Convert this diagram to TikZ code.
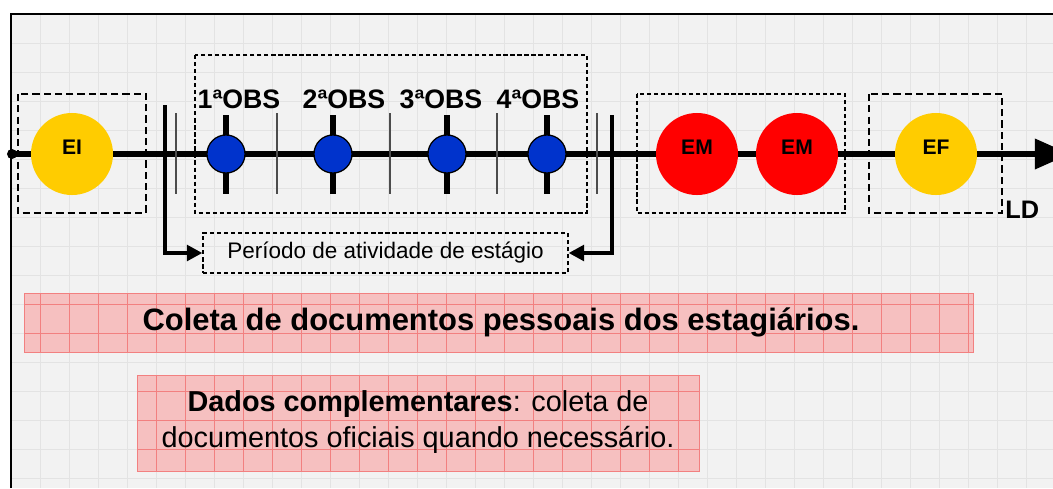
\documentclass[tikz,border=0pt]{standalone}
\usepackage{fontspec}
\setmainfont{Liberation Sans}
\usetikzlibrary{arrows.meta,positioning}

\definecolor{bggray}{RGB}{242,242,242}
\definecolor{gridgray}{RGB}{227,227,227}
\definecolor{obsblue}{RGB}{0,51,204}
\definecolor{stageyellow}{RGB}{255,204,0}
\definecolor{stagered}{RGB}{255,0,0}
\definecolor{notepink}{RGB}{246,192,192}
\definecolor{notegrid}{RGB}{242,128,128}

\tikzset{
  timeline/.style={line width=3.8pt},
  stage/.style={circle, minimum size=2.05cm, inner sep=0pt, text depth=0.35cm,
    font=\bfseries\fontsize{15}{15}\selectfont},
  obs/.style={circle, draw=black, line width=0.9pt, fill=obsblue, minimum size=0.95cm, inner sep=0pt},
  obstick/.style={line width=4.2pt},
  septick/.style={line width=1.3pt, black!70},
  periodbar/.style={line width=2.9pt},
  groupbox/.style={draw, line width=0.8pt, dash pattern=on 3pt off 2pt},
  stagebox/.style={draw, line width=1.4pt, dash pattern=on 5pt off 3pt},
  obslabel/.style={font=\bfseries\fontsize{19}{19}\selectfont, inner sep=0pt},
  notebox/.style={fill=notepink, draw=notegrid, line width=0.6pt}
}

\begin{document}
\begin{tikzpicture}[x=0.025cm, y=-0.025cm]
  \useasboundingbox (0,0) rectangle (1053,488);
  % Background and grid
  \fill[white] (0,0) rectangle (1053,488);
  \fill[bggray] (11,14) rectangle (1053,488);
  \foreach \k in {1,...,36} \draw[gridgray, line width=0.5pt] ({11+29*\k},14) -- ({11+29*\k},488);
  \foreach \k in {1,...,16} \draw[gridgray, line width=0.5pt] (11,{14+29*\k}) -- (1053,{14+29*\k});
  \draw[line width=0.8pt] (11,488) -- (11,14) -- (1053,14);

  % Dashed groups
  \draw[stagebox] (18,94) rectangle (146,213);
  \draw[groupbox] (195,55) rectangle (587,213);
  \draw[groupbox] (637,94) rectangle (845,213);
  \draw[stagebox] (869,94) rectangle (1002,213);

  % Time line
  \node[circle, fill, inner sep=0pt, minimum size=0.25cm] (start) at (12,154) {};
  \coordinate (end) at (1070,154);
  \draw[timeline, -{Triangle[length=25pt, width=21pt]}] (start.center) -- (end);

  % Separators
  \foreach \x in {176,277,390,497,597}
    \draw[septick] (\x,113) -- (\x,194);

  % Observations
  \foreach \x in {226,333,447,547}
    \draw[obstick] (\x,115) -- (\x,194);
  \node[obs] (obs1) at (226,154) {};
  \node[obs] (obs2) at (333,154) {};
  \node[obs] (obs3) at (447,154) {};
  \node[obs] (obs4) at (547,154) {};
  \node[obslabel, anchor=base] (lbl1) at (239,108) {1ªOBS};
  \node[obslabel, anchor=base] (lbl2) at (344,108) {2ªOBS};
  \node[obslabel, anchor=base] (lbl3) at (441,108) {3ªOBS};
  \node[obslabel, anchor=base] (lbl4) at (538,108) {4ªOBS};

  % Stages
  \node[stage, fill=stageyellow] (ei) at (72,154) {EI};
  \node[stage, fill=stagered] (em1) at (697,154) {EM};
  \node[stage, fill=stagered] (em2) at (797,154) {EM};
  \node[stage, fill=stageyellow] (ef) at (936,154) {EF};
  \node[obslabel, anchor=base west, font=\bfseries\fontsize{18}{18}\selectfont] (ld) at (1005,218) {LD};

  % Period of activity
  \node[groupbox, minimum width=9.125cm, minimum height=1cm, inner sep=0pt,
    font=\fontsize{16}{16}\selectfont] (periodo) at (385.5,253) {Período de atividade de estágio};
  \coordinate (barL) at (165,105);
  \coordinate (barR) at (612,115);
  \draw[periodbar, -{Triangle[length=11pt, width=11pt]}] (barL) |- (periodo.west);
  \draw[periodbar, -{Triangle[length=11pt, width=11pt]}] (barR) |- (periodo.east);

  % Notes
  \path[notebox] (24,293) rectangle (973,352);
  \path[notebox] (137,375) rectangle (699,471);
  \begin{scope}
    \clip (24,293) rectangle (973,352) (137,375) rectangle (699,471);
    \foreach \k in {1,...,36} \draw[notegrid, line width=0.5pt] ({11+29*\k},280) -- ({11+29*\k},488);
    \foreach \k in {10,...,16} \draw[notegrid, line width=0.5pt] (11,{14+29*\k}) -- (1053,{14+29*\k});
  \end{scope}
  \node[font=\bfseries\fontsize{22}{22}\selectfont] (coleta) at (501,322) {Coleta de documentos pessoais dos estagiários.};
  \node[align=center, font=\fontsize{20.5}{25}\selectfont] (dados) at (418,422)
    {\textbf{Dados complementares}: coleta de\\documentos oficiais quando necessário.};
\end{tikzpicture}
\end{document}
